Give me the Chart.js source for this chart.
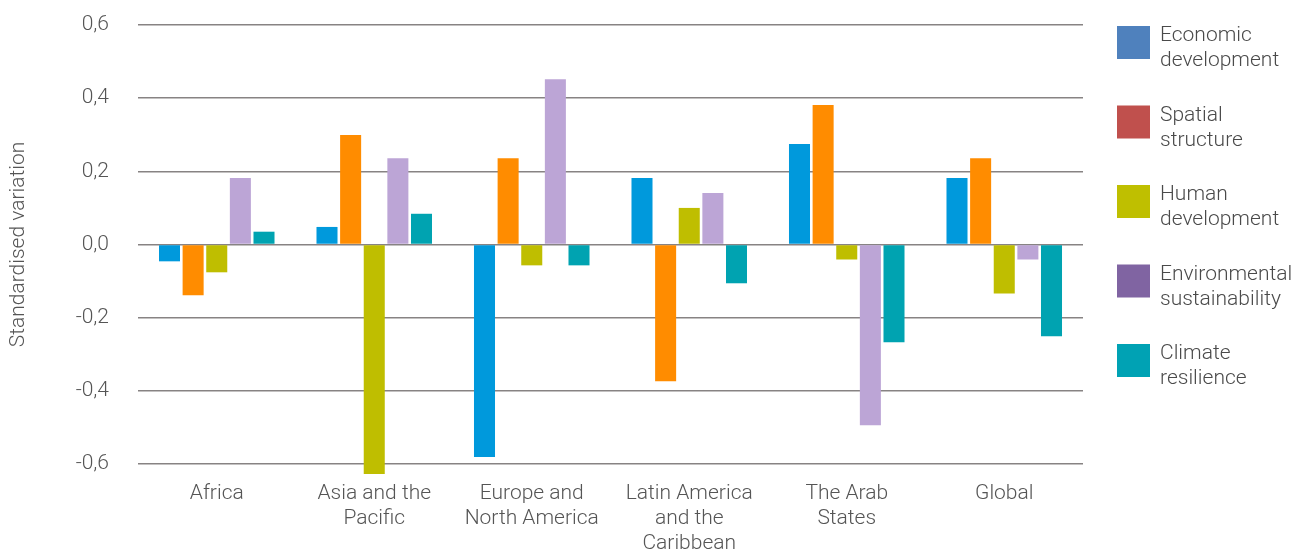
<!DOCTYPE html>
<html lang="en">
<head>
  <meta charset="UTF-8">
  <title>Standardised variation by region</title>
  <script src="https://cdn.jsdelivr.net/npm/chart.js"></script>
  <style>
    body {
      margin: 0;
      background: #ffffff;
      font-family: Roboto, sans-serif;
    }
    .wrap {
      width: 1306px;
      height: 551px;
      position: relative;
    }
  </style>
</head>
<body>
  <div class="wrap">
    <canvas id="chart"></canvas>
  </div>

  <script>
    const regions = [
      "Africa",
      ["Asia and the", "Pacific"],
      ["Europe and", "North America"],
      ["Latin America", "and the", "Caribbean"],
      ["The Arab", "States"],
      "Global"
    ];

    const economic      = [-0.046,  0.048, -0.581,  0.182,  0.275,  0.182];
    const spatial       = [-0.139,  0.299,  0.236, -0.374,  0.381,  0.236];
    const human         = [-0.076, -0.627, -0.057,  0.100, -0.041, -0.134];
    const environmental = [ 0.182,  0.236,  0.452,  0.141, -0.494, -0.041];
    const climate       = [ 0.035,  0.084, -0.057, -0.106, -0.267, -0.251];

    const seriesNames = [
      ["Economic", "development"],
      ["Spatial", "structure"],
      ["Human", "development"],
      ["Environmental", "sustainability"],
      ["Climate", "resilience"]
    ];
    const barColors    = ["#0099dc", "#ff8c00", "#bfbe00", "#bca5d6", "#00a3b1"];
    const legendColors = ["#4f81bd", "#c0504d", "#bfbf00", "#8064a2", "#00a2b4"];

    const yTicks = [-0.6, -0.4, -0.2, 0.0, 0.2, 0.4, 0.6];

    const textColor = "#555555";

    // legend on the right, drawn by hand since it uses its own colours
    const sideLegend = {
      id: "sideLegend",
      afterDraw(chart) {
        const ctx = chart.ctx;
        const x0 = chart.chartArea.right + 34;
        ctx.save();
        ctx.font = "300 21px Roboto";
        ctx.textBaseline = "middle";
        ctx.textAlign = "left";
        seriesNames.forEach((lines, i) => {
          const top = 26 + i * 79.5;
          ctx.fillStyle = legendColors[i];
          ctx.fillRect(x0, top, 33, 33);
          ctx.fillStyle = "#4a4a4a";
          lines.forEach((t, j) => {
            ctx.fillText(t, x0 + 43, top + 10 + j * 25);
          });
        });
        ctx.restore();
      }
    };

    const data = [economic, spatial, human, environmental, climate];

    new Chart(document.getElementById("chart"), {
      type: "bar",
      data: {
        labels: regions,
        datasets: data.map((vals, i) => ({
          label: seriesNames[i].join(" "),
          data: vals,
          backgroundColor: barColors[i],
          categoryPercentage: 0.75,
          barPercentage: 0.89,
          clip: false
        }))
      },
      options: {
        responsive: true,
        maintainAspectRatio: false,
        animation: false,
        layout: {
          padding: { top: 25, right: 223, bottom: 0, left: 0 }
        },
        plugins: {
          legend: { display: false },
          tooltip: { enabled: false }
        },
        scales: {
          x: {
            grid: { display: false, drawTicks: false },
            border: { display: false },
            ticks: {
              color: textColor,
              padding: 17,
              maxRotation: 0,
              autoSkip: false,
              font: { family: "Roboto", size: 21, weight: 300, lineHeight: 1.19 }
            },
            afterFit(scale) { scale.height = 87; }
          },
          y: {
            min: -0.6,
            max: 0.6,
            z: 1,
            afterBuildTicks(scale) {
              scale.ticks = yTicks.map(v => ({ value: v }));
            },
            afterFit(scale) {
              scale.width = 138;
              // tick padding would otherwise push the plot down
              scale.paddingTop = 0;
              scale.paddingBottom = 0;
            },
            grid: {
              color: "rgba(70, 64, 64, 0.65)",
              lineWidth: 1.5,
              drawTicks: false
            },
            border: { display: false },
            ticks: {
              color: textColor,
              padding: 29,
              font: { family: "Roboto", size: 21, weight: 300 },
              callback: v => v.toFixed(1).replace(".", ",")
            },
            title: {
              display: true,
              text: "Standardised variation",
              color: textColor,
              padding: { top: 6, bottom: 0 },
              font: { family: "Roboto", size: 21, weight: 300 }
            }
          }
        }
      },
      plugins: [sideLegend]
    });
  </script>
</body>
</html>
